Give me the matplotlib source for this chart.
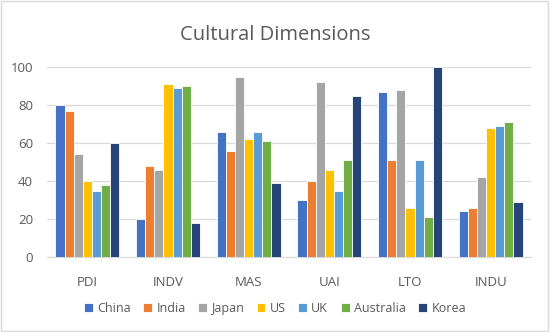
import numpy as np
import matplotlib.pyplot as plt
from matplotlib.patches import Rectangle

plt.rcParams['font.family'] = ['Open Sans', 'DejaVu Sans']

dimensions = ['PDI', 'INDV', 'MAS', 'UAI', 'LTO', 'INDU']
countries = ['China', 'India', 'Japan', 'US', 'UK', 'Australia', 'Korea']
china = [80, 20, 66, 30, 87, 24]
india = [77, 48, 56, 40, 51, 26]
japan = [54, 46, 95, 92, 88, 42]
us = [40, 91, 62, 46, 26, 68]
uk = [35, 89, 66, 35, 51, 69]
australia = [38, 90, 61, 51, 21, 71]
korea = [60, 18, 39, 85, 100, 29]
series = [china, india, japan, us, uk, australia, korea]
colors = ['#4472C4', '#ED7D31', '#A5A5A5', '#FFC000', '#5B9BD5', '#70AD47', '#264478']

text_color = '#595959'
fig = plt.figure(figsize=(5.5, 3.32), dpi=100)
ax = fig.add_axes([0.0855, 0.226, 0.88, 0.572])

x = np.arange(len(dimensions))
n = len(series)
slot = 0.113
for i, (vals, c) in enumerate(zip(series, colors)):
    ax.bar(x + (i - (n - 1) / 2) * slot, vals, width=slot, color=c,
           edgecolor='white', linewidth=0.6, label=countries[i], zorder=3)

ax.set_xlim(-0.5, len(dimensions) - 0.5)
ax.set_ylim(0, 100)
ax.set_yticks(range(0, 101, 20))
ax.yaxis.grid(True, color='#D9D9D9', linewidth=0.9, zorder=0)
ax.set_xticks(x)
ax.set_xticklabels(dimensions)
ax.tick_params(axis='both', length=0, labelsize=9.5, colors=text_color)
ax.tick_params(axis='x', pad=14)
ax.tick_params(axis='y', pad=10)
for s in ['top', 'right', 'left']:
    ax.spines[s].set_visible(False)
ax.spines['bottom'].set_color('#D9D9D9')
ax.set_axisbelow(True)

fig.suptitle('Cultural Dimensions', x=0.5, y=0.925, fontsize=14.5, color=text_color)
fig.legend(loc='center', bbox_to_anchor=(0.5, 0.072), ncol=7, frameon=False,
           fontsize=9, handlelength=0.7, handleheight=0.7, handletextpad=0.35,
           columnspacing=1.0, labelcolor=text_color)

fig.patches.append(Rectangle((0.002, 0.003), 0.995, 0.993, transform=fig.transFigure,
                             fill=False, edgecolor='#D9D9D9', linewidth=1))

fig.savefig('out.png', dpi=100)
